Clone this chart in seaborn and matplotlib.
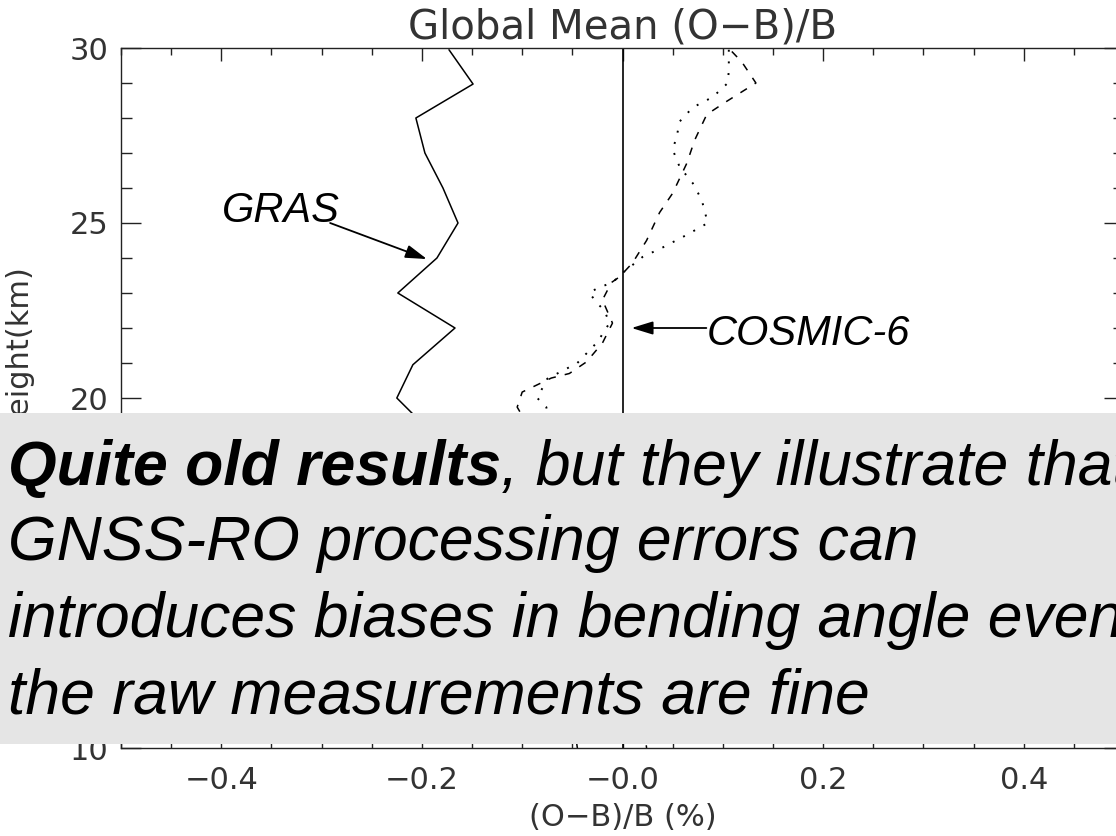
import matplotlib
matplotlib.use("Agg")
import matplotlib.pyplot as plt
import seaborn as sns
from matplotlib.patches import Rectangle
from matplotlib.ticker import MultipleLocator

# GRAS profile (solid); below ~19.5 km it is hidden by the box
gras_height = [29.95, 28.97, 28.0, 27.0, 26.0, 25.0, 24.0, 23.0, 22.0, 20.95, 20.0,
               19.0, 18.0, 17.0, 16.0, 15.0, 14.0, 13.0, 12.0, 11.0, 10.0]
gras_bias = [-0.173, -0.149, -0.206, -0.197, -0.179, -0.164, -0.185, -0.224, -0.167, -0.209, -0.225,
             -0.19, -0.16, -0.14, -0.12, -0.10, -0.08, -0.07, -0.06, -0.05, -0.045]

# COSMIC profiles (dashed and dotted)
dash_height = [29.9, 29.6, 29.0, 28.46, 28.1, 27.37, 26.7, 25.85, 25.3, 24.5, 23.86, 23.46,
               23.3, 22.8, 22.14, 21.57, 21.03, 20.7, 20.57, 20.17, 19.74,
               19.0, 18.0, 17.0, 16.0, 15.0, 14.0, 13.0, 12.0, 11.0, 10.0]
dash_bias = [0.109, 0.119, 0.133, 0.103, 0.084, 0.072, 0.064, 0.050, 0.037, 0.024, 0.010, -0.003,
             -0.011, -0.020, -0.010, -0.020, -0.036, -0.053, -0.071, -0.100, -0.105,
             -0.09, -0.07, -0.05, -0.03, -0.01, 0.0, 0.01, 0.015, 0.02, 0.024]

dot_height = [29.95, 29.37, 29.0, 28.6, 28.3, 27.9, 27.46, 27.1, 26.6, 26.14, 25.66, 25.0,
              24.66, 24.3, 24.03, 23.57, 23.3, 23.14, 23.0, 22.7, 22.5, 22.14, 21.6, 21.0,
              20.55, 20.0, 19.74, 19.0, 18.0, 17.0, 16.0, 15.0, 14.0, 13.0, 12.0, 11.0, 10.0]
dot_bias = [0.106, 0.106, 0.105, 0.09, 0.07, 0.057, 0.054, 0.05, 0.057, 0.07, 0.079, 0.085,
            0.064, 0.04, 0.02, 0.0, -0.01, -0.025, -0.033, -0.025, -0.018, -0.013, -0.025, -0.045,
            -0.075, -0.085, -0.076, -0.07, -0.055, -0.04, -0.025, -0.01, 0.0, 0.008, 0.014, 0.018, 0.022]

xtick_vals = [-0.4, -0.2, 0.0, 0.2, 0.4]
xtick_labels = ["\u22120.4", "\u22120.2", "\u22120.0", "0.2", "0.4"]
ytick_vals = [10, 15, 20, 25, 30]

note_lines = ["GNSS-RO processing errors can",
              "introduces biases in bending angle even when",
              "the raw measurements are fine"]

sns.set_style("ticks")
plt.rcParams["font.family"] = ["DejaVu Sans"]

fig = plt.figure(figsize=(11.16, 8.36), dpi=100)
ax = fig.add_axes([121 / 1116, 1 - 748 / 836, 1003 / 1116, 700 / 836])

ink = "#222222"
sns.lineplot(x=gras_bias, y=gras_height, sort=False, estimator=None, ax=ax,
             color="black", linewidth=1.1)
sns.lineplot(x=dash_bias, y=dash_height, sort=False, estimator=None, ax=ax,
             color="black", linewidth=1.1, linestyle=(0, (5, 6)))
sns.lineplot(x=dot_bias, y=dot_height, sort=False, estimator=None, ax=ax,
             color="black", linewidth=1.4, linestyle=(0, (1, 5)))
ax.axvline(0, color="black", linewidth=1.2)

ax.set_xlim(-0.5, 0.5)
ax.set_ylim(10, 30)
ax.set_xticks(xtick_vals)
ax.set_xticklabels(xtick_labels)
ax.set_yticks(ytick_vals)
ax.xaxis.set_minor_locator(MultipleLocator(0.05))
ax.yaxis.set_minor_locator(MultipleLocator(1))
ax.tick_params(which="both", direction="in", top=True, right=True, color=ink,
               labelcolor="#333333", labelsize=22, width=1.0)
ax.tick_params(axis="y", which="major", length=14.5, pad=9)
ax.tick_params(axis="y", which="minor", length=8)
ax.tick_params(axis="x", which="major", length=9.5, pad=13)
ax.tick_params(axis="x", which="minor", length=5)
for s in ax.spines.values():
    s.set_visible(True)
    s.set_color(ink)
    s.set_linewidth(1.0)

ax.set_title("Global Mean (O\u2212B)/B", fontsize=29, color="#333333", pad=7)
ax.set_xlabel("(O\u2212B)/B (%)", fontsize=22, color="#333333", labelpad=6)
fig.text(0.016, 1 - 350 / 836, "Height(km)", rotation=90, ha="center", va="center",
         fontsize=22, color="#333333")

# annotations
ax.text(-0.399, 25.03, "GRAS", fontsize=30, style="italic", family="Liberation Sans",
        color="black", ha="left", va="baseline")
ax.annotate("", xy=(-0.195, 23.97), xytext=(-0.2915, 25.0),
            arrowprops=dict(arrowstyle="-|>,head_length=1.3,head_width=0.4",
                            mutation_scale=10, color="black", linewidth=1.3,
                            shrinkA=0, shrinkB=0))
ax.text(0.0836, 21.52, "COSMIC-6", fontsize=30, style="italic", family="Liberation Sans",
        color="black", ha="left", va="baseline")
ax.annotate("", xy=(0.009, 22.0), xytext=(0.0836, 22.0),
            arrowprops=dict(arrowstyle="-|>,head_length=1.3,head_width=0.4",
                            mutation_scale=10, color="black", linewidth=1.3,
                            shrinkA=0, shrinkB=0))

# grey comment box over the lower part of the plot
fig.patches.append(Rectangle((0, 1 - 744 / 836), 1, (744 - 413) / 836,
                             transform=fig.transFigure, facecolor="#e5e5e5",
                             edgecolor="none", zorder=5))
x0 = 8 / 1116
t1 = fig.text(x0, 1 - 485 / 836, "Quite old results", fontsize=45, style="italic",
              weight="bold", family="Liberation Sans", color="black",
              va="baseline", zorder=6)
fig.canvas.draw()
bb = t1.get_window_extent(renderer=fig.canvas.get_renderer())
fig.text(bb.x1 / fig.bbox.width, 1 - 485 / 836, ", but they illustrate that", fontsize=45,
         style="italic", family="Liberation Sans", color="black", va="baseline", zorder=6)
for base, line in zip([560, 637, 713], note_lines):
    fig.text(x0, 1 - base / 836, line, fontsize=45, style="italic",
             family="Liberation Sans", color="black", va="baseline", zorder=6)

fig.savefig("out.png", dpi=100)
plt.close(fig)
